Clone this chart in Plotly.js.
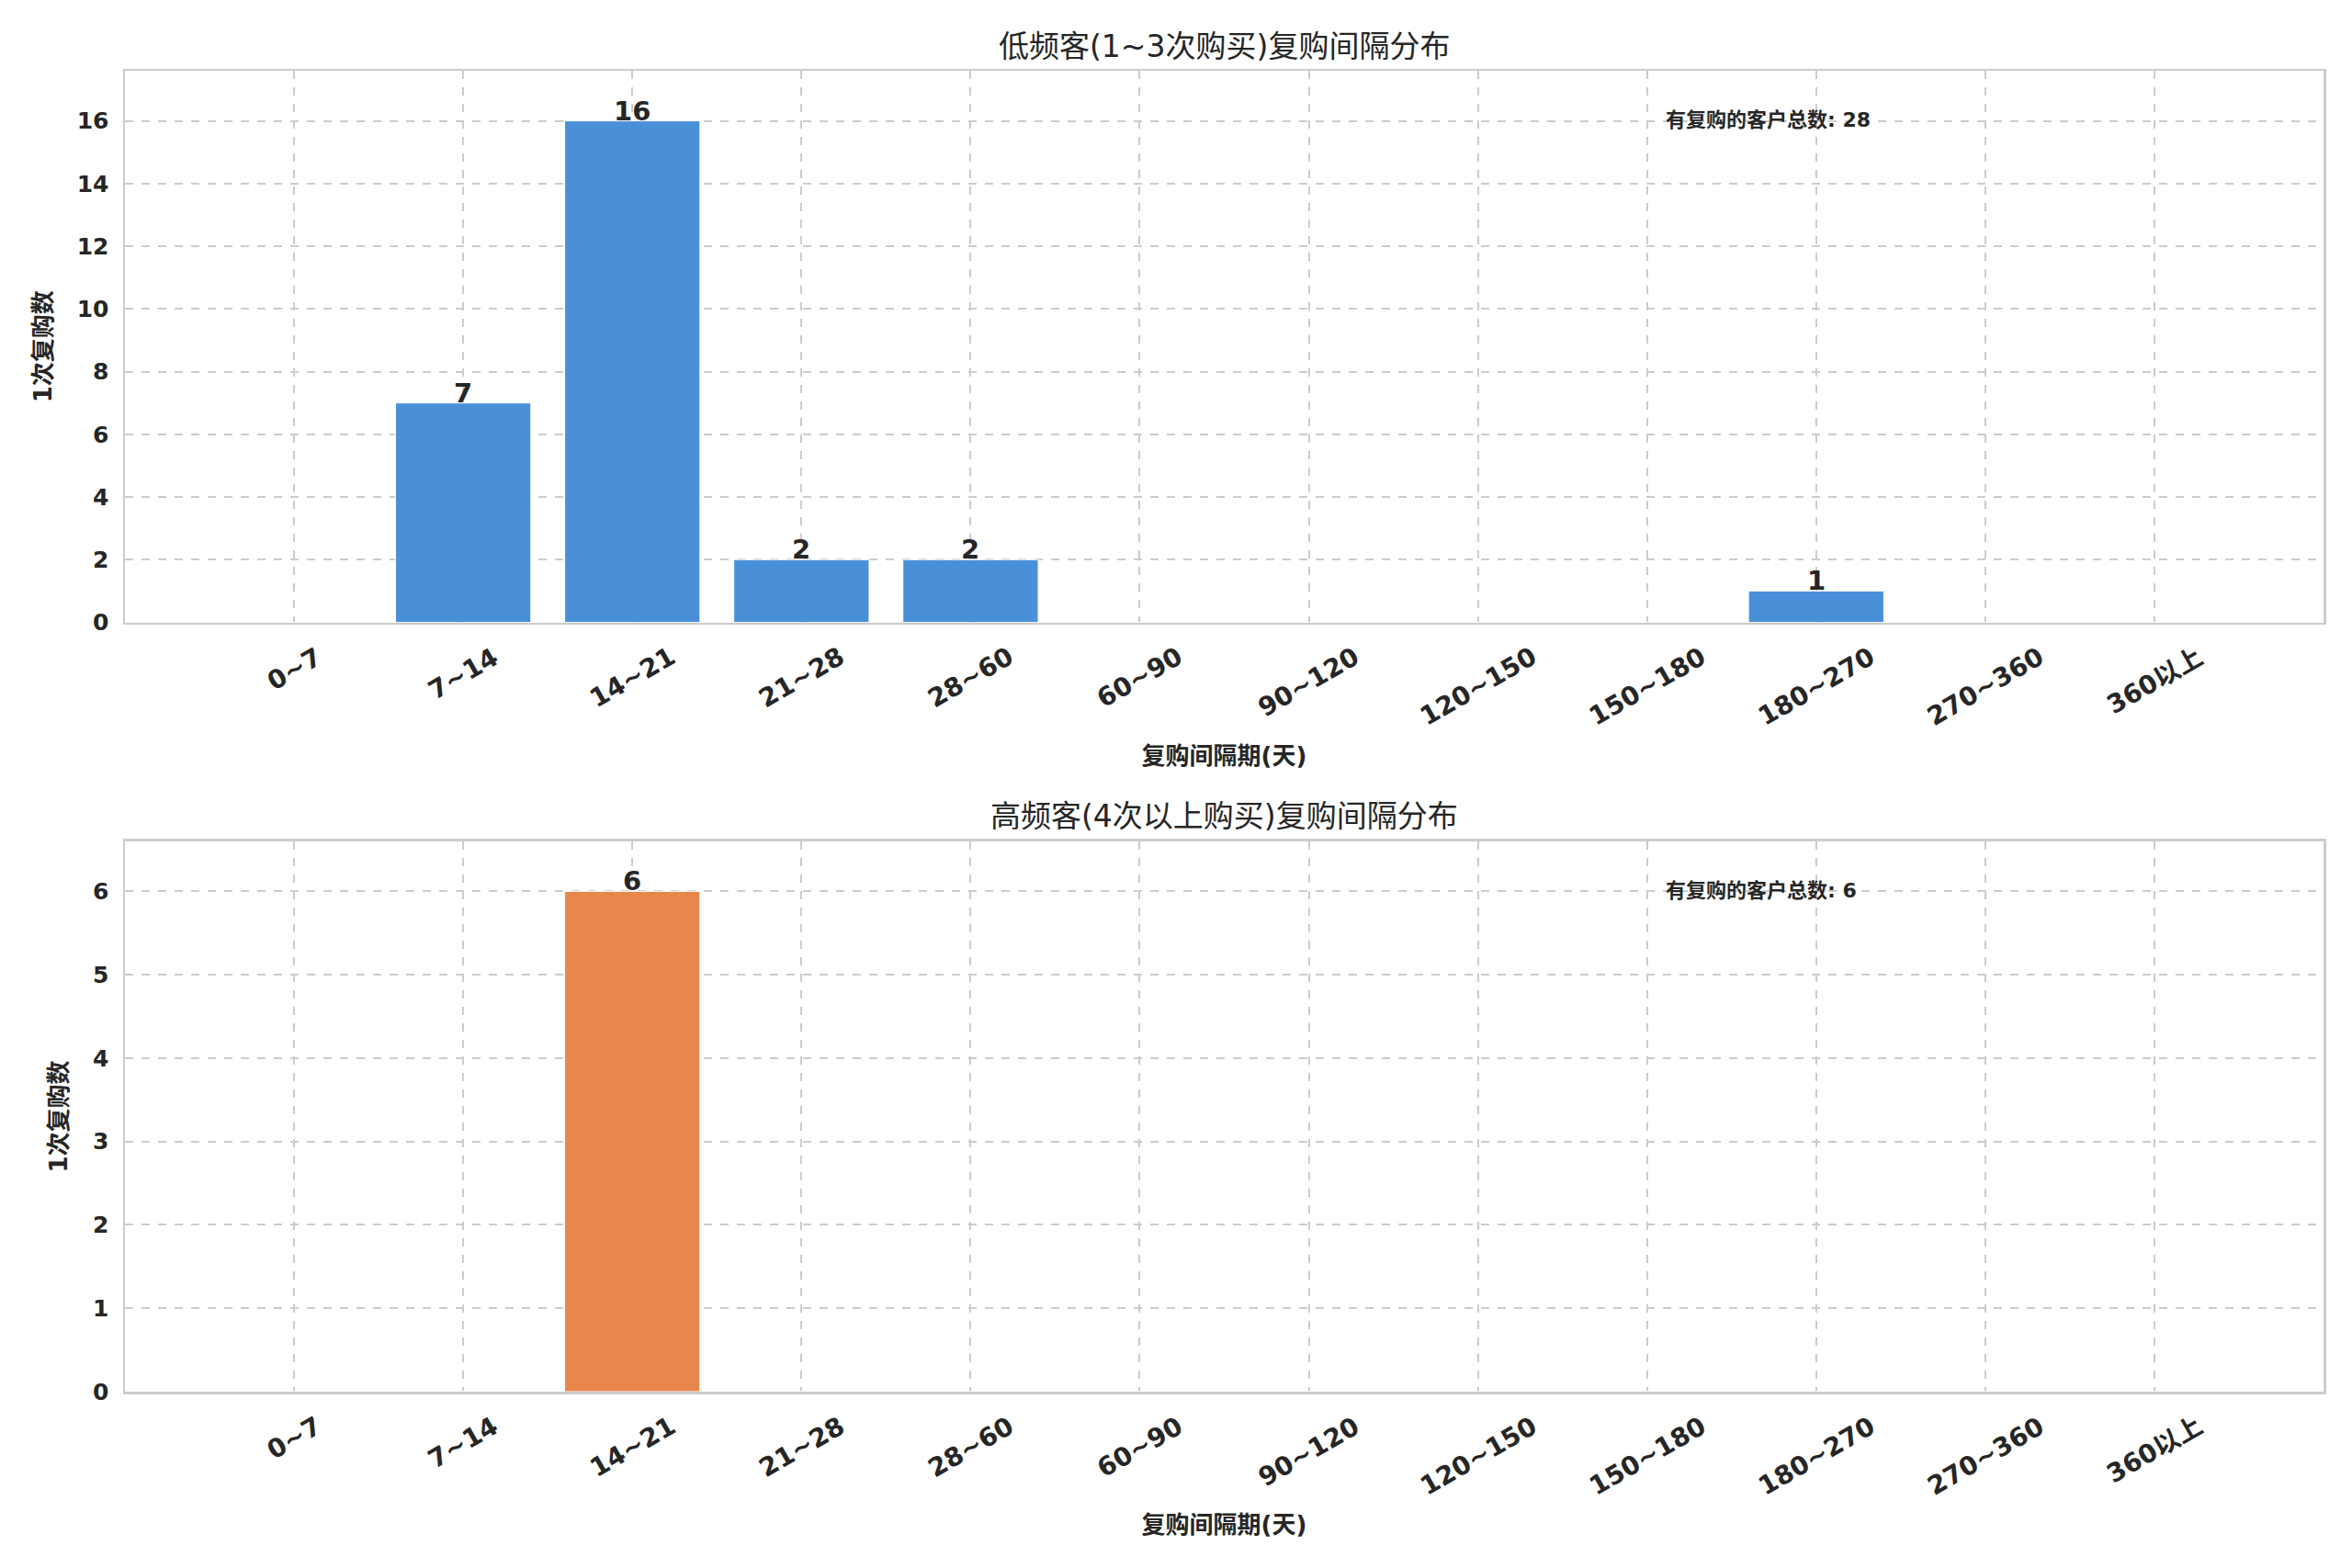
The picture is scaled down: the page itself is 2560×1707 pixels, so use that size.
<!DOCTYPE html>
<html>
<head>
<meta charset="utf-8">
<script src="https://cdn.plot.ly/plotly-3.0.1.min.js"></script>
<style>
  html, body { margin: 0; padding: 0; background: #fff; }
  #graph_area { width: 2560px; height: 1707px; }
</style>
</head>
<body>
<div id="graph_area"></div>
<script>
// 区间（天）
const bins = ["0~7", "7~14", "14~21", "21~28", "28~60", "60~90", "90~120",
              "120~150", "150~180", "180~270", "270~360", "360以上"];

// 低频客 (1~3次购买)
const lowCounts = [0, 7, 16, 2, 2, 0, 0, 0, 0, 1, 0, 0];
// 高频客 (4次以上购买)
const highCounts = [0, 0, 6, 0, 0, 0, 0, 0, 0, 0, 0, 0];

const titles = ["低频客(1~3次购买)复购间隔分布", "高频客(4次以上购买)复购间隔分布"];
const xLabel = "复购间隔期(天)";
const yLabel = "1次复购数";
const totalLabel = "有复购的客户总数";

const FONT = "DejaVu Sans, Noto Sans CJK SC, sans-serif";
const DARK = "#262626";
const GRID = "#cccccc";

function sum(a) { return a.reduce((s, v) => s + v, 0); }

function barTrace(counts, color, xa, ya) {
    return {
        type: "bar",
        x: bins,
        y: counts,
        xaxis: xa,
        yaxis: ya,
        width: 0.8,
        marker: { color: color, line: { color: "#ffffff", width: 1 } },
        hoverinfo: "x+y",
    };
}

function xAxis(anchor) {
    return {
        anchor: anchor,
        type: "category",
        range: [-1, 12],
        showticklabels: false,
        showgrid: true,
        gridcolor: GRID,
        gridwidth: 2,
        griddash: "dash",
        showline: true,
        mirror: true,
        linecolor: GRID,
        linewidth: 2.5,
        ticks: "",
        title: { text: xLabel, font: { family: FONT, size: 26, color: DARK, weight: "bold" }, standoff: 135 },
        automargin: false,
    };
}

function yAxis(anchor, domain, maxVal, dtick) {
    return {
        anchor: anchor,
        domain: domain,
        range: [0, maxVal * 1.1],
        dtick: dtick,
        tickfont: { family: FONT, size: 25, color: DARK, weight: "bold" },
        showgrid: true,
        gridcolor: GRID,
        gridwidth: 2,
        griddash: "dash",
        zeroline: false,
        showline: true,
        mirror: true,
        linecolor: GRID,
        linewidth: 2.5,
        ticks: "",
        ticklabelstandoff: 10,
        title: { text: yLabel, font: { family: FONT, size: 26, color: DARK, weight: "bold" }, standoff: 20 },
        automargin: false,
    };
}

// rotated category labels, centred under each tick (like ha=center)
function tickLabels(xa, ya) {
    return bins.map(b => ({
        text: b, xref: xa, yref: ya + " domain", x: b, y: 0, yshift: -18,
        textangle: -30, showarrow: false, xanchor: "center", yanchor: "top",
        font: { family: FONT, size: 28, color: DARK, weight: "bold" },
    }));
}

// value labels sitting on top of each non-zero bar
function valueLabels(counts, xa, ya) {
    return bins.map((b, i) => ({ b: b, v: counts[i] })).filter(d => d.v > 0).map(d => ({
        text: String(d.v), xref: xa, yref: ya, x: d.b, y: d.v, yshift: -8,
        showarrow: false, xanchor: "center", yanchor: "bottom",
        font: { family: FONT, size: 29, color: DARK, weight: "bold" },
    }));
}

const data = [
    barTrace(lowCounts, "#4a90d9", "x", "y"),
    barTrace(highCounts, "#e8864c", "x2", "y2"),
];

const annotations = [
    {
        text: titles[0], xref: "paper", yref: "paper", x: 0.5, y: 1,
        yshift: 27, showarrow: false, xanchor: "center", yanchor: "middle",
        font: { family: FONT, size: 33, color: DARK },
    },
    {
        text: titles[1], xref: "paper", yref: "paper", x: 0.5, y: 0.4166,
        yshift: 27, showarrow: false, xanchor: "center", yanchor: "middle",
        font: { family: FONT, size: 33, color: DARK },
    },
    {
        text: totalLabel + ": " + sum(lowCounts), xref: "x domain", yref: "y domain",
        x: 0.7, y: 0.935, showarrow: false, xanchor: "left", yanchor: "top",
        font: { family: FONT, size: 22, color: DARK, weight: "bold" },
    },
    {
        text: totalLabel + ": " + sum(highCounts), xref: "x2 domain", yref: "y2 domain",
        x: 0.7, y: 0.935, showarrow: false, xanchor: "left", yanchor: "top",
        font: { family: FONT, size: 22, color: DARK, weight: "bold" },
    },
].concat(tickLabels("x", "y"), tickLabels("x2", "y2"),
         valueLabels(lowCounts, "x", "y"), valueLabels(highCounts, "x2", "y2"));

const layout = {
    width: 2560,
    height: 1707,
    paper_bgcolor: "#ffffff",
    plot_bgcolor: "#ffffff",
    showlegend: false,
    bargap: 0.2,
    margin: { l: 136, r: 31, t: 77, b: 192 },
    font: { family: FONT, color: DARK },
    xaxis: xAxis("y"),
    yaxis: yAxis("x", [0.5824, 1], Math.max(...lowCounts), 2),
    xaxis2: xAxis("y2"),
    yaxis2: yAxis("x2", [0, 0.4166], Math.max(...highCounts), 1),
    annotations: annotations,
};

Plotly.newPlot("graph_area", data, layout, { displayModeBar: false, staticPlot: true });
</script>
</body>
</html>
